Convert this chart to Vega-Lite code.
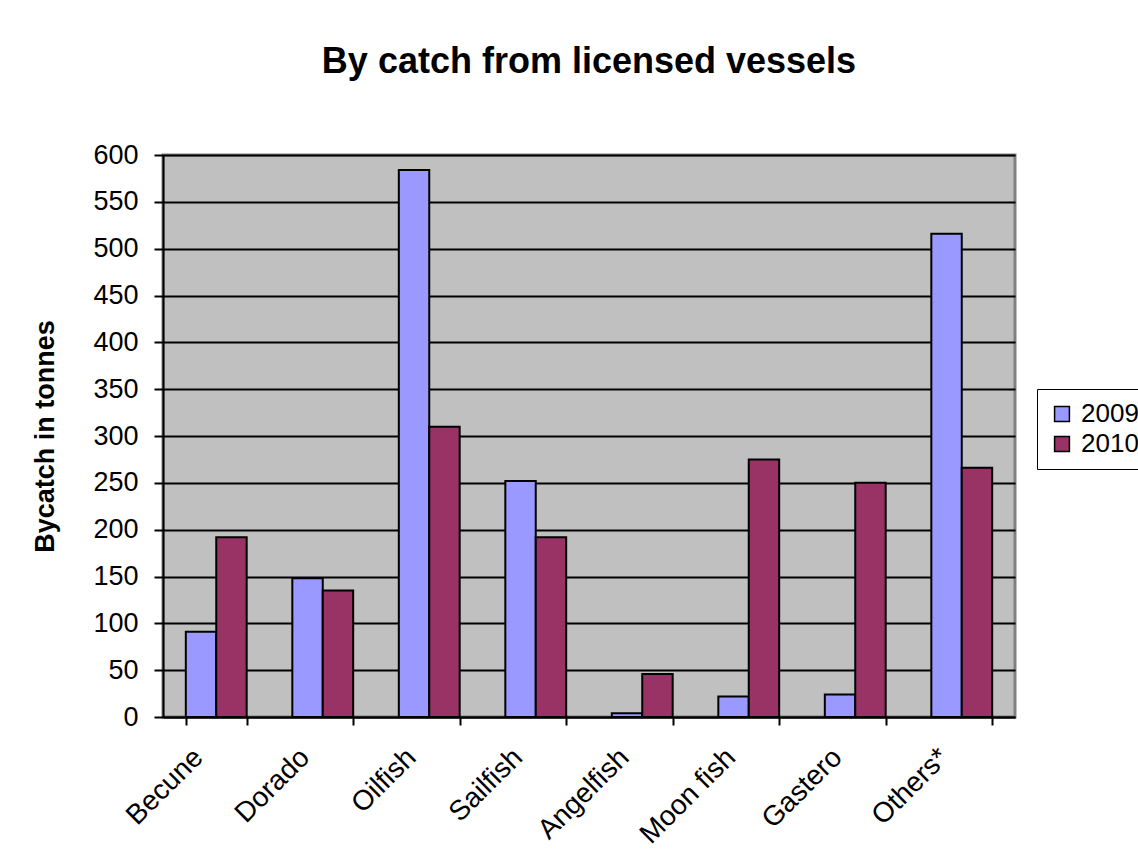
{
  "$schema": "https://vega.github.io/schema/vega-lite/v6.json",
  "width": 852,
  "height": 562,
  "autosize": {"type": "none"},
  "padding": {"left": 163, "top": 155, "right": 123, "bottom": 150},
  "background": "white",
  "title": {
    "text": "By catch from licensed vessels",
    "font": "Liberation Sans",
    "fontSize": 36,
    "fontWeight": "bold",
    "color": "black",
    "anchor": "middle",
    "offset": 60
  },
  "data": {
    "values": [
      {"species": "Becune", "year": "2009", "tonnes": 91},
      {"species": "Becune", "year": "2010", "tonnes": 192},
      {"species": "Dorado", "year": "2009", "tonnes": 148},
      {"species": "Dorado", "year": "2010", "tonnes": 135},
      {"species": "Oilfish", "year": "2009", "tonnes": 584},
      {"species": "Oilfish", "year": "2010", "tonnes": 310},
      {"species": "Sailfish", "year": "2009", "tonnes": 252},
      {"species": "Sailfish", "year": "2010", "tonnes": 192},
      {"species": "Angelfish", "year": "2009", "tonnes": 4},
      {"species": "Angelfish", "year": "2010", "tonnes": 46},
      {"species": "Moon fish", "year": "2009", "tonnes": 22},
      {"species": "Moon fish", "year": "2010", "tonnes": 275},
      {"species": "Gastero", "year": "2009", "tonnes": 24},
      {"species": "Gastero", "year": "2010", "tonnes": 250},
      {"species": "Others*", "year": "2009", "tonnes": 516},
      {"species": "Others*", "year": "2010", "tonnes": 266}
    ]
  },
  "mark": {"type": "bar", "stroke": "black", "strokeWidth": 2},
  "encoding": {
    "x": {
      "field": "species",
      "type": "nominal",
      "sort": null,
      "scale": {"paddingInner": 0.4286, "paddingOuter": 0.2143},
      "axis": {
        "title": null,
        "labelAngle": -45,
        "labelAlign": "right",
        "labelBaseline": "middle",
        "labelFont": "Liberation Sans",
        "labelFontSize": 28,
        "labelColor": "black",
        "labelPadding": 28,
        "labelOffset": -18,
        "tickBand": "extent",
        "tickColor": "black",
        "tickWidth": 2,
        "tickSize": 8,
        "domainColor": "black",
        "domainWidth": 2,
        "grid": false
      }
    },
    "xOffset": {"field": "year", "type": "nominal"},
    "y": {
      "field": "tonnes",
      "type": "quantitative",
      "scale": {"domain": [0, 600], "nice": false},
      "axis": {
        "title": "Bycatch in tonnes",
        "titleFont": "Liberation Sans",
        "titleFontSize": 27,
        "titleFontWeight": "bold",
        "titleColor": "black",
        "titlePadding": 33,
        "values": [0, 50, 100, 150, 200, 250, 300, 350, 400, 450, 500, 550, 600],
        "labelFont": "Liberation Sans",
        "labelFontSize": 27,
        "labelColor": "black",
        "labelPadding": 16,
        "tickColor": "black",
        "tickWidth": 2,
        "tickSize": 9,
        "domainColor": "black",
        "domainWidth": 2,
        "grid": true,
        "gridColor": "black",
        "gridWidth": 1.8,
        "gridOpacity": 1
      }
    },
    "color": {
      "field": "year",
      "type": "nominal",
      "scale": {"domain": ["2009", "2010"], "range": ["#9999FF", "#993366"]},
      "legend": {
        "title": null,
        "orient": "none",
        "legendX": 874,
        "legendY": 234,
        "strokeColor": "black",
        "padding": 12,
        "symbolType": "square",
        "symbolSize": 220,
        "symbolStrokeColor": "black",
        "symbolStrokeWidth": 1.5,
        "labelFont": "Liberation Sans",
        "labelFontSize": 26,
        "labelColor": "black",
        "rowPadding": 4,
        "labelOffset": 6
      }
    }
  },
  "config": {
    "view": {"fill": "#C0C0C0", "stroke": "#808080", "strokeWidth": 3}
  }
}
